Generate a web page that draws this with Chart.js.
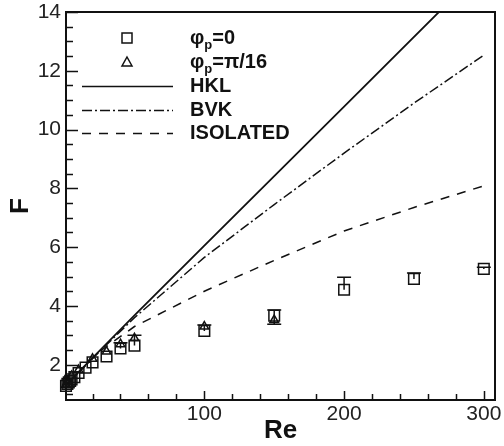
<!DOCTYPE html>
<html>
<head>
<meta charset="utf-8">
<script src="https://cdn.jsdelivr.net/npm/chart.js@4/dist/chart.umd.min.js"></script>
<style>
	body { margin: 0; background: #fff; }
	canvas { display: block; }
</style>
</head>
<body>
<canvas id="chartCanvas" width="504" height="446"></canvas>
<script>
// measured points, phi_p = 0 (squares)
const sqRe = [1, 2, 3, 4, 5, 7, 10, 15, 20, 30, 40, 50, 100, 150, 200, 250, 300]
const sqF = [1.28, 1.35, 1.4, 1.45, 1.5, 1.58, 1.72, 1.9, 2.08, 2.28, 2.55, 2.65, 3.15, 3.67, 4.55, 4.92, 5.26]
// measured points, phi_p = pi/16 (triangles)
const triRe = [1, 2, 5, 10, 20, 30, 40, 50, 100, 150]
const triF = [1.32, 1.42, 1.62, 1.82, 2.2, 2.45, 2.7, 2.9, 3.3, 3.52]
// error bars
const errRe = [40, 50, 100, 150, 200, 250, 300]
const errHi = [2.75, 3.0, 3.35, 3.86, 4.98, 5.12, 5.32]
const errLo = [null, null, null, 3.38, null, null, null]
// correlations
const hklRe = [1, 50, 100, 150, 200, 270]
const hklF = [1.32, 3.68, 6.05, 8.42, 10.78, 14.1]
const bvkRe = [1, 25, 50, 100, 150, 200, 250, 299]
const bvkF = [1.3, 2.45, 3.6, 5.65, 7.45, 9.2, 10.9, 12.5]
const isoRe = [1, 10, 25, 50, 100, 150, 200, 250, 299]
const isoF = [1.2, 1.75, 2.45, 3.3, 4.5, 5.55, 6.55, 7.35, 8.07]
// axes
const xTicks = [100, 200, 300]
const yTicks = [2, 4, 6, 8, 10, 12, 14]

const ink = '#111'
const pts = (xs, ys) => xs.map((x, i) => ({ x: x, y: ys[i] }))

// Tecplot-like frame, inward ticks and error bars
const frame = {
	id: 'frame',
	afterDatasetsDraw(chart) {
		const c = chart.ctx
		const a = chart.chartArea
		const xs = chart.scales.x
		const ys = chart.scales.y
		c.save()
		c.strokeStyle = ink
		c.lineWidth = 2
		c.strokeRect(a.left, a.top, a.right - a.left, a.bottom - a.top)

		c.lineWidth = 1.5
		c.beginPath()
		for (let v = 20; v <= 300; v += 20) {
			const px = Math.round(xs.getPixelForValue(v)) + 0.5
			const len = xTicks.includes(v) ? 9 : 6
			c.moveTo(px, a.bottom)
			c.lineTo(px, a.bottom - len)
		}
		for (let v = 1; v <= 14; v += 0.5) {
			const py = Math.round(ys.getPixelForValue(v)) + 0.5
			const len = yTicks.includes(v) ? 12 : 7
			c.moveTo(a.left, py)
			c.lineTo(a.left + len, py)
		}
		c.stroke()

		c.lineWidth = 1.5
		c.beginPath()
		for (let i = 0; i < errRe.length; i++) {
			const px = xs.getPixelForValue(errRe[i])
			const hi = ys.getPixelForValue(errHi[i])
			const mid = ys.getPixelForValue(sqF[sqRe.indexOf(errRe[i])])
			const lo = errLo[i] === null ? mid : ys.getPixelForValue(errLo[i])
			c.moveTo(px, hi)
			c.lineTo(px, lo)
			c.moveTo(px - 7, hi)
			c.lineTo(px + 7, hi)
			if (errLo[i] !== null) {
				c.moveTo(px - 7, lo)
				c.lineTo(px + 7, lo)
			}
		}
		c.stroke()
		c.restore()
	}
}

// legend drawn inside the plot, top left
const insideLegend = {
	id: 'insideLegend',
	afterDraw(chart) {
		const c = chart.ctx
		c.save()
		c.strokeStyle = ink
		c.fillStyle = ink
		c.lineWidth = 1.5
		c.textBaseline = 'middle'
		const tx = 190
		const bold = 'bold 20px "Liberation Sans", Arial, sans-serif'

		// square
		c.strokeRect(122, 33, 10, 10)
		// triangle
		c.beginPath()
		c.moveTo(127, 57)
		c.lineTo(132, 66)
		c.lineTo(122, 66)
		c.closePath()
		c.stroke()

		const phi = (y, rest) => {
			c.font = bold
			c.fillText('φ', tx, y)
			let w = c.measureText('φ').width
			c.font = 'bold 13px "Liberation Sans", Arial, sans-serif'
			c.fillText('p', tx + w, y + 7)
			w += c.measureText('p').width
			c.font = bold
			c.fillText(rest, tx + w, y)
		}
		phi(38, '=0')
		phi(62, '=π/16')

		const lines = [['HKL', 86, []], ['BVK', 110, [10, 3, 2, 3]], ['ISOLATED', 133, [9, 8]]]
		for (const [name, y, dash] of lines) {
			c.setLineDash(dash)
			c.beginPath()
			c.moveTo(82, y + 0.5)
			c.lineTo(173, y + 0.5)
			c.stroke()
			c.setLineDash([])
			c.font = bold
			c.fillText(name, tx, y)
		}
		c.restore()
	}
}

const tickFont = { family: '"Liberation Sans", Arial, sans-serif', size: 21 }
const titleFont = { family: '"Liberation Sans", Arial, sans-serif', size: 26, weight: 'bold' }

new Chart(document.getElementById('chartCanvas'), {
	type: 'scatter',
	data: {
		datasets: [{
			label: 'φp=0',
			data: pts(sqRe, sqF),
			pointStyle: 'rect',
			pointRadius: 7.5,
			borderColor: ink,
			backgroundColor: 'transparent',
			borderWidth: 1.5,
			clip: 12,
		}, {
			label: 'φp=π/16',
			data: pts(triRe, triF),
			pointStyle: 'triangle',
			pointRadius: 5,
			borderColor: ink,
			backgroundColor: 'transparent',
			borderWidth: 1.5,
			clip: 12,
		}, {
			label: 'HKL',
			data: pts(hklRe, hklF),
			showLine: true,
			pointRadius: 0,
			borderColor: ink,
			borderWidth: 1.8,
		}, {
			label: 'BVK',
			data: pts(bvkRe, bvkF),
			showLine: true,
			pointRadius: 0,
			borderColor: ink,
			borderWidth: 1.5,
			borderDash: [10, 3, 2, 3],
		}, {
			label: 'ISOLATED',
			data: pts(isoRe, isoF),
			showLine: true,
			pointRadius: 0,
			borderColor: ink,
			borderWidth: 1.5,
			borderDash: [9, 8],
		}],
	},
	options: {
		responsive: false,
		animation: false,
		events: [],
		layout: {
			padding: { top: 12, right: 6, left: 0, bottom: 0 },
		},
		plugins: {
			legend: { display: false },
			tooltip: { enabled: false },
		},
		scales: {
			x: {
				type: 'linear',
				min: 1,
				max: 308,
				afterBuildTicks: (s) => { s.ticks = xTicks.map(v => ({ value: v })) },
				afterFit: (s) => { s.height = 46; s.paddingLeft = 0; s.paddingRight = 0 },
				grid: { display: false, drawTicks: false, tickLength: 0 },
				border: { display: false },
				ticks: { font: tickFont, color: '#222', padding: 2, maxRotation: 0, autoSkip: false },
				title: { display: true, text: 'Re', font: titleFont, color: ink, padding: { top: -6, bottom: 0 } },
			},
			y: {
				type: 'linear',
				min: 0.8,
				max: 14,
				afterBuildTicks: (s) => { s.ticks = yTicks.map(v => ({ value: v })) },
				afterFit: (s) => { s.width = 66; s.paddingTop = 0; s.paddingBottom = 0 },
				grid: { display: false, drawTicks: false, tickLength: 0 },
				border: { display: false },
				ticks: { font: tickFont, color: '#222', padding: 5, autoSkip: false },
				title: { display: true, text: 'F', font: titleFont, color: ink, padding: { top: 5, bottom: 0 } },
			},
		},
	},
	plugins: [frame, insideLegend],
})
</script>
</body>
</html>
